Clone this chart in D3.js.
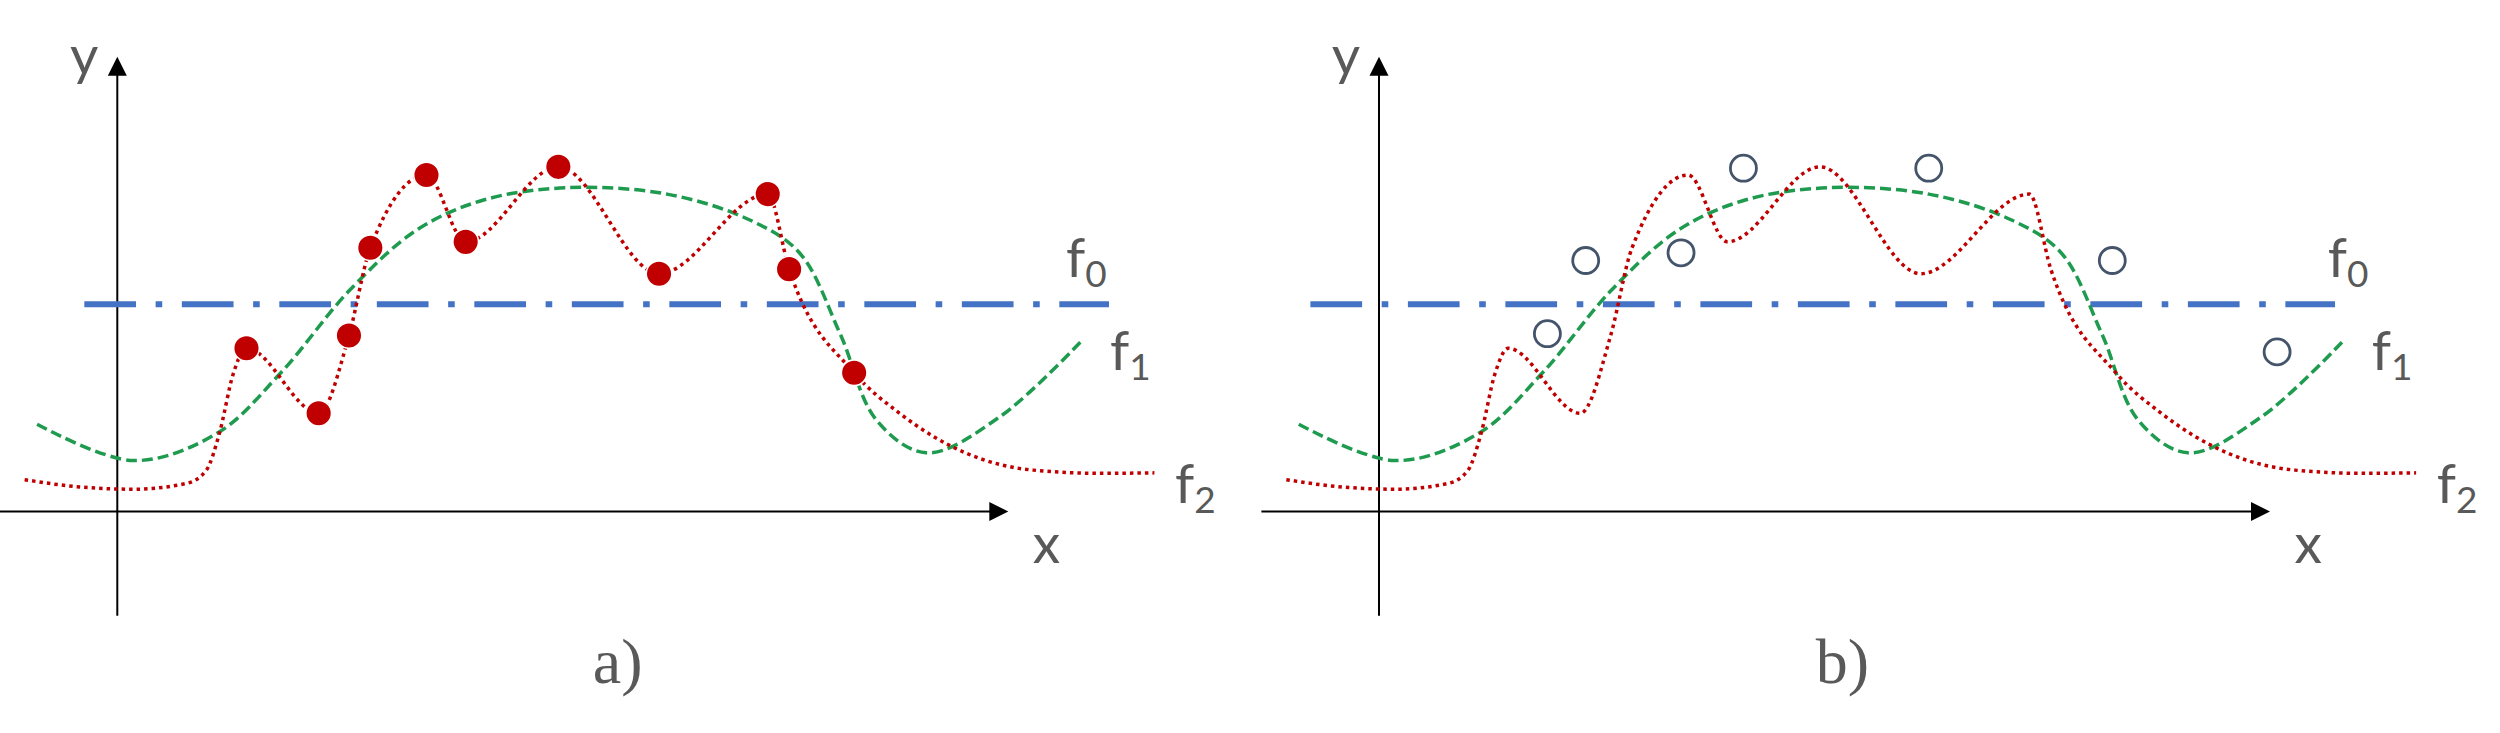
<!DOCTYPE html>
<html><head><meta charset="utf-8">
<script src="https://cdn.jsdelivr.net/npm/d3@7"></script>
<style>html,body{margin:0;padding:0;background:#fff;} svg{display:block}</style>
</head><body>
<svg id="chart" width="2500" height="733"></svg>
<script>
// ---------------- data ----------------
const f0Level = 4.56;

const f1X = [-0.90,0.18,1.12,1.83,2.61,3.36,4.11,5.04,6.17,7.10,7.66,8.11,8.52,9.08,9.91,10.84];
const f1Y = [1.92,1.12,1.72,3.04,4.87,6.19,6.85,7.12,6.98,6.41,5.68,3.92,2.01,1.29,2.09,3.79];

const f2X = [-1.04,-0.48,0.18,0.78,1.00,1.15,1.30,1.45,2.26,2.60,2.84,3.47,3.91,4.95,6.08,7.30,7.54,8.27,8.78,9.53,10.28,11.03,11.64];
const f2Y = [0.70,0.55,0.49,0.62,0.91,1.75,3.02,3.59,2.16,3.87,5.80,7.40,5.93,7.58,5.23,6.98,5.33,3.05,2.16,1.28,0.91,0.84,0.85];

const trainX = [1.45,2.26,2.60,2.84,3.47,3.91,4.95,6.08,7.30,7.54,8.27];
const trainY = [3.59,2.16,3.87,5.80,7.40,5.93,7.58,5.23,6.98,5.33,3.05];

const testX = [1.89,2.32,3.39,4.09,6.17,8.23,10.08];
const testY = [3.91,5.52,5.69,7.55,7.55,5.52,3.51];

const panelNames = ["a)", "b)"];
const axisNames = ["x", "y"];
const curveNames = ["f", "f", "f"];
const curveSubs = ["0", "1", "2"];

// ---------------- layout ----------------
const panels = [
  {ox: 0,      f0From: -0.37, f0To: 11.13, train: true,  test: false, labelX: 617.7},
  {ox: 1261.7, f0From: -0.77, f0To: 10.73, train: false, test: true,  labelX: 1842.5}
];
const xAxisFrom = -1.32, yAxisFrom = -2.29, axisTo = 10;
const labelFont = "Lato, 'Open Sans', sans-serif";
const grey = "#595959";

const svg = d3.select("#chart");

const f1Data = f1X.map((x, i) => [x, f1Y[i]]);
const f2Data = f2X.map((x, i) => [x, f2Y[i]]);
const trainData = trainX.map((x, i) => [x, trainY[i]]);
const testData = testX.map((x, i) => [x, testY[i]]);

panels.forEach((p, pi) => {
  const x = d3.scaleLinear().domain([0, 10]).range([p.ox + 117.3, p.ox + 1008.3]);
  const y = d3.scaleLinear().domain([0, 10]).range([511.5, 56.8]);
  const g = svg.append("g");

  // axes
  g.append("line")
    .attr("x1", x(xAxisFrom)).attr("x2", x(axisTo) - 16)
    .attr("y1", y(0)).attr("y2", y(0))
    .attr("stroke", "#000").attr("stroke-width", 2);
  g.append("path")
    .attr("d", `M${x(axisTo)},${y(0)} L${x(axisTo) - 19},${y(0) - 9.5} L${x(axisTo) - 19},${y(0) + 9.5} Z`)
    .attr("fill", "#000");
  g.append("line")
    .attr("x1", x(0)).attr("x2", x(0))
    .attr("y1", y(yAxisFrom)).attr("y2", y(axisTo) + 16)
    .attr("stroke", "#000").attr("stroke-width", 2);
  g.append("path")
    .attr("d", `M${x(0)},${y(axisTo)} L${x(0) - 9.5},${y(axisTo) + 19} L${x(0) + 9.5},${y(axisTo) + 19} Z`)
    .attr("fill", "#000");

  // f0: constant
  g.append("line")
    .attr("x1", x(p.f0From)).attr("x2", x(p.f0To))
    .attr("y1", y(f0Level)).attr("y2", y(f0Level))
    .attr("stroke", "#4472C4").attr("stroke-width", 6)
    .attr("stroke-dasharray", "51.7 19.6 6.6 19.6");

  // f1: green dashed
  g.append("path")
    .datum(f1Data)
    .attr("d", d3.line().x(d => x(d[0])).y(d => y(d[1])).curve(d3.curveCatmullRom.alpha(0.5)))
    .attr("fill", "none").attr("stroke", "#1E9B4F").attr("stroke-width", 3.5)
    .attr("stroke-dasharray", "11 5");

  // f2: red dotted
  g.append("path")
    .datum(f2Data)
    .attr("d", d3.line().x(d => x(d[0])).y(d => y(d[1])).curve(d3.curveMonotoneX))
    .attr("fill", "none").attr("stroke", "#C00000").attr("stroke-width", 3.5)
    .attr("stroke-dasharray", "3.5 4");

  if (p.train) {
    g.selectAll("circle.train").data(trainData).join("circle")
      .attr("class", "train")
      .attr("cx", d => x(d[0])).attr("cy", d => y(d[1])).attr("r", 12.8)
      .attr("fill", "#C00000").attr("stroke", "#fff").attr("stroke-width", 1.5);
  }
  if (p.test) {
    g.selectAll("circle.test").data(testData).join("circle")
      .attr("class", "test")
      .attr("cx", d => x(d[0])).attr("cy", d => y(d[1])).attr("r", 13)
      .attr("fill", "none").attr("stroke", "#44546A").attr("stroke-width", 2.8);
  }

  // axis names
  g.append("text").text(axisNames[1])
    .attr("x", p.ox + 84.2).attr("y", 75).attr("text-anchor", "middle")
    .attr("font-family", labelFont).attr("font-size", 55).attr("fill", grey);
  g.append("text").text(axisNames[0])
    .attr("x", p.ox + 1046.5).attr("y", 563).attr("text-anchor", "middle")
    .attr("font-family", labelFont).attr("font-size", 55).attr("fill", grey);

  // curve names
  const curvePos = [[1066, 276.7], [1110, 370], [1175, 503.3]];
  curvePos.forEach((c, i) => {
    const t = g.append("text")
      .attr("x", p.ox + c[0]).attr("y", c[1])
      .attr("font-family", labelFont).attr("font-size", 55).attr("fill", grey);
    t.append("tspan").text(curveNames[i]);
    t.append("tspan").text(curveSubs[i]).attr("font-size", 37).attr("dy", 10);
  });

  // panel name
  g.append("text").text(panelNames[pi])
    .attr("x", p.labelX).attr("y", 683.3).attr("text-anchor", "middle")
    .attr("font-family", "'Liberation Serif', 'Times New Roman', serif")
    .attr("font-size", 64).attr("fill", grey);
});
</script>
</body></html>
